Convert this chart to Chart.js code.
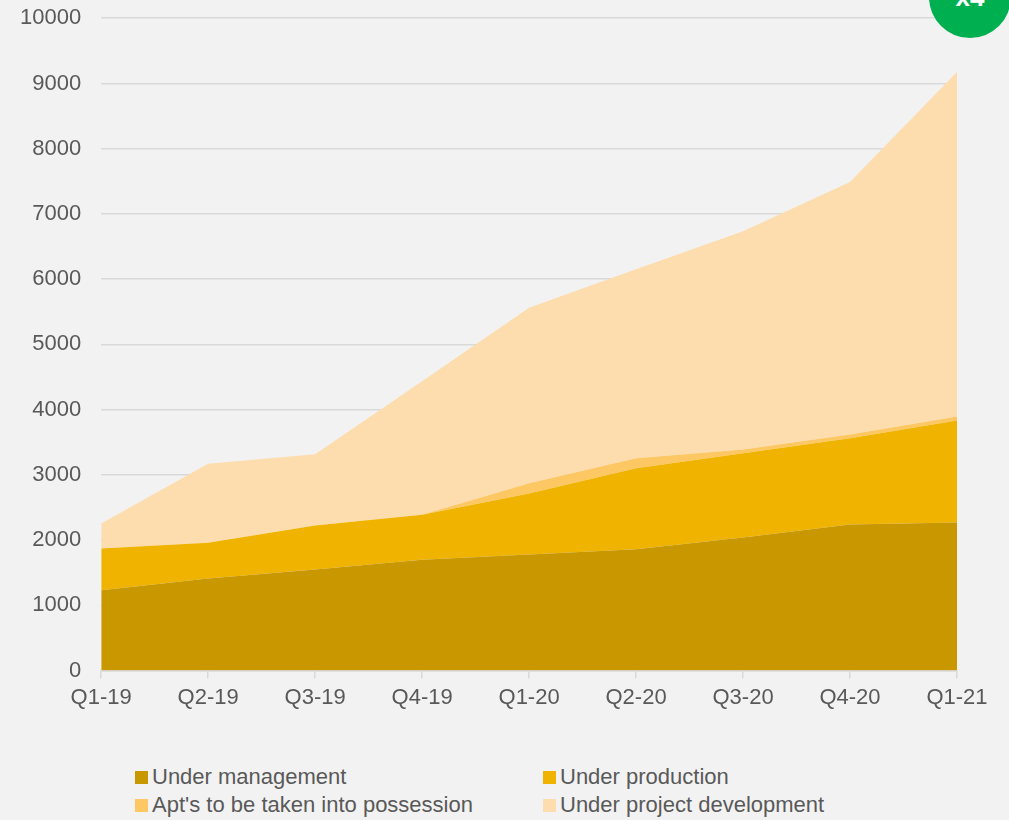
<!DOCTYPE html>
<html>
<head>
<meta charset="utf-8">
<script src="https://cdn.jsdelivr.net/npm/chart.js@4"></script>
<style>
  html, body {
    margin: 0;
    padding: 0;
    background: #f2f2f2;
    overflow: hidden;
    font-family: "Liberation Sans", Arial, sans-serif;
  }
  .wrap {
    position: relative;
    width: 1009px;
    height: 820px;
    overflow: hidden;
  }
  .chart-box {
    position: absolute;
    left: 0;
    top: -15px;
    width: 1009px;
    height: 742px;
  }
  .badge {
    position: absolute;
    left: 929px;
    top: -44px;
    width: 82px;
    height: 82px;
    border-radius: 50%;
    background: #00b050;
    color: #fff;
    font-weight: bold;
    font-size: 26px;
    line-height: 82px;
    text-align: center;
  }
  .legend {
    position: absolute;
    left: 135px;
    top: 763px;
    margin: 0;
    padding: 0;
    list-style: none;
    display: grid;
    grid-template-columns: 408px 300px;
    row-gap: 0;
  }
  .legend li {
    display: flex;
    align-items: center;
    height: 28px;
    font-size: 22px;
    color: #595959;
    white-space: nowrap;
  }
  .legend .swatch {
    width: 13px;
    height: 13px;
    margin-right: 4px;
  }
</style>
</head>
<body>
<div class="wrap">
  <div class="chart-box"><canvas id="units"></canvas></div>
  <div class="badge">x4</div>
  <ul class="legend"></ul>
</div>
<script>
const quarters = ["Q1-19", "Q2-19", "Q3-19", "Q4-19", "Q1-20", "Q2-20", "Q3-20", "Q4-20", "Q1-21"];
const underManagement = [1230, 1410, 1550, 1700, 1780, 1860, 2040, 2240, 2270];
const underProduction = [640, 550, 675, 690, 935, 1240, 1290, 1320, 1565];
const aptsToPossess = [0, 0, 0, 0, 155, 155, 60, 60, 60];
const underDevelopment = [385, 1210, 1090, 2045, 2690, 2895, 3345, 3870, 5280];

const seriesNames = ["Under management", "Under production", "Apt's to be taken into possession", "Under project development"];
const seriesColors = ["#c99700", "#f0b400", "#fdc864", "#fddcad"];
const seriesValues = [underManagement, underProduction, aptsToPossess, underDevelopment];

const textColor = "#595959";
const gridColor = "#d9d9d9";
const font = { family: "'Liberation Sans', Arial, sans-serif", size: 22 };

const datasets = seriesNames.map((name, i) => ({
  label: name,
  data: seriesValues[i],
  backgroundColor: seriesColors[i],
  borderWidth: 0,
  pointRadius: 0,
  tension: 0,
  fill: i === 0 ? "origin" : "-1",
}));

new Chart(document.getElementById("units"), {
  type: "line",
  data: { labels: quarters, datasets },
  options: {
    responsive: true,
    maintainAspectRatio: false,
    animation: false,
    layout: { padding: { top: 4, right: 52, left: 0, bottom: 10 } },
    plugins: {
      legend: { display: false },
      tooltip: { enabled: false },
    },
    scales: {
      x: {
        grid: {
          drawOnChartArea: false,
          drawTicks: true,
          tickLength: 8,
          color: gridColor,
          lineWidth: 1.5,
        },
        border: { color: gridColor, width: 1.5 },
        ticks: { color: textColor, font, padding: 6, maxRotation: 0 },
      },
      y: {
        stacked: true,
        min: 0,
        max: 10000,
        grid: { color: gridColor, lineWidth: 1.5, drawTicks: false },
        border: { display: false },
        ticks: {
          stepSize: 1000,
          color: textColor,
          font,
          padding: 20,
          callback: (v) => String(v),
        },
      },
    },
  },
});

// legend, two columns, built from the same series
const ul = document.querySelector(".legend");
seriesNames.forEach((name, i) => {
  let li = document.createElement("li");
  li.innerHTML = `<span class="swatch" style="background:${seriesColors[i]}"></span>${name}`;
  ul.appendChild(li);
});
</script>
</body>
</html>
